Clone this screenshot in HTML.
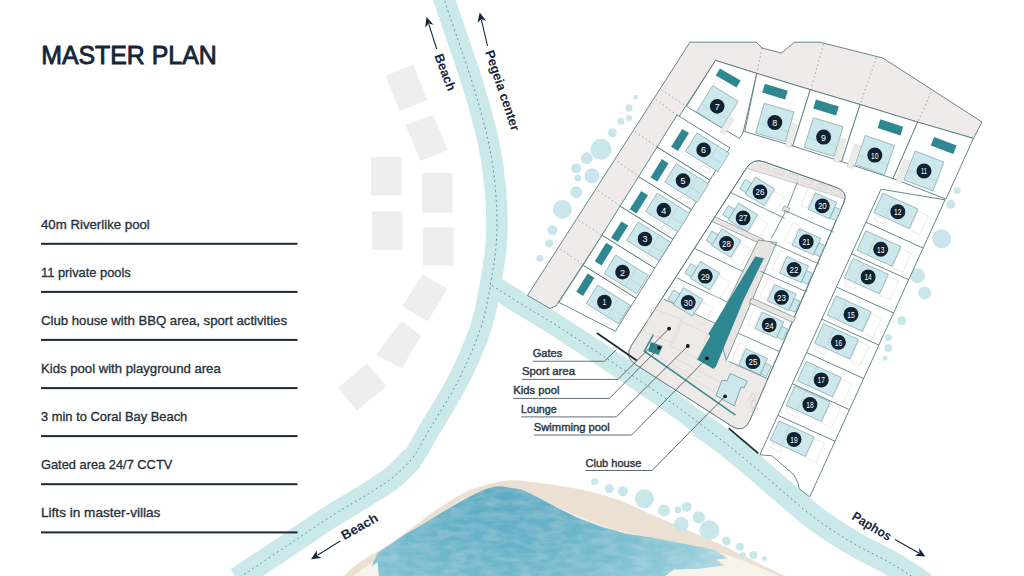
<!DOCTYPE html>
<html><head><meta charset="utf-8"><style>
html,body{margin:0;padding:0;background:#fff;}
body{width:1024px;height:576px;overflow:hidden;position:relative;font-family:"Liberation Sans",sans-serif;}
svg{position:absolute;left:0;top:0;}
</style></head><body>
<svg width="1024" height="576" viewBox="0 0 1024 576" font-family="Liberation Sans, sans-serif">
<polygon points="385.5,75.8 412.8,64.4 427.7,99.7 399.5,110.9" fill="#eeeeee"/>
<polygon points="405.6,125.0 433.0,114.8 447.8,150.0 420.5,161.0" fill="#eeeeee"/>
<rect x="371" y="157" width="30.5" height="38.5" fill="#eeeeee"/>
<rect x="422" y="173" width="30.5" height="39.5" fill="#eeeeee"/>
<rect x="372" y="211.5" width="30.5" height="38.5" fill="#eeeeee"/>
<rect x="423" y="227.5" width="30.5" height="38" fill="#eeeeee"/>
<polygon points="422.5,274.5 447.5,288.8 427.5,321.2 402.5,306.2" fill="#eeeeee"/>
<polygon points="401.2,321.2 421.0,335.5 402.0,368.3 376.2,355.0" fill="#eeeeee"/>
<polygon points="366.9,363.6 386.4,386.2 356.7,410.5 338.0,387.8" fill="#eeeeee"/>
<defs>
<radialGradient id="sea" gradientUnits="userSpaceOnUse" cx="500" cy="492" r="250" gradientTransform="translate(500 492) scale(1 0.75) translate(-500 -492)">
<stop offset="0" stop-color="#5aabc3"/><stop offset="0.3" stop-color="#66b3c9"/><stop offset="0.6" stop-color="#7cc0d1"/><stop offset="0.85" stop-color="#98cedb"/><stop offset="1" stop-color="#b0dae4"/>
</radialGradient>
<filter id="wc" x="0" y="0" width="100%" height="100%">
<feTurbulence type="fractalNoise" baseFrequency="0.06 0.16" numOctaves="3" seed="7" result="n"/>
<feColorMatrix in="n" type="matrix" values="0 0 0 0 1  0 0 0 0 1  0 0 0 0 1  0 0 0 0.3 -0.1" result="w"/>
<feComposite in="w" in2="SourceGraphic" operator="in" result="wi"/>
<feMerge><feMergeNode in="SourceGraphic"/><feMergeNode in="wi"/></feMerge>
</filter>
</defs>
<path d="M343.7,576.0 C346.4,573.7 351.7,567.7 360.0,562.0 C368.3,556.3 382.2,549.2 393.3,541.7 C404.4,534.2 415.6,524.5 426.7,516.7 C437.8,508.9 451.1,500.0 460.0,495.0 C468.9,490.0 472.4,489.1 480.0,486.7 C487.6,484.3 497.5,481.5 505.8,480.7 C514.1,479.9 517.6,480.3 530.0,481.7 C542.4,483.1 565.0,486.1 580.0,489.3 C595.0,492.5 608.3,496.5 620.0,500.6 C631.7,504.7 633.5,506.6 650.3,513.9 C667.1,521.2 700.3,535.0 720.6,544.4 C740.9,553.8 761.3,564.7 772.2,570.0 C783.1,575.3 783.7,575.0 786.0,576.0  Z" fill="#ece0d3"/>
<path d="M353.0,576.0 C357.7,572.8 370.0,564.0 381.0,557.0 C392.0,550.0 408.0,541.8 419.0,534.0 C430.0,526.2 438.5,516.2 447.0,510.0 C455.5,503.8 461.2,500.0 470.0,497.0 C478.8,494.0 488.3,491.5 500.0,492.0 C511.7,492.5 523.3,494.5 540.0,500.0 C556.7,505.5 580.0,518.3 600.0,525.0 C620.0,531.7 638.8,535.0 660.0,540.0 C681.2,545.0 707.2,549.0 727.0,555.0 C746.8,561.0 770.3,572.5 779.0,576.0  Z" fill="#f8f4ec"/>
<path d="M377.5,553.3 C381.5,550.5 393.5,542.0 401.7,536.7 C409.9,531.4 418.4,526.7 426.7,521.7 C435.0,516.7 444.5,510.9 451.7,506.7 C458.9,502.5 464.4,499.4 470.0,496.5 C475.6,493.6 480.3,491.2 485.0,489.5 C489.7,487.8 492.9,486.6 498.0,486.5 C503.1,486.4 510.2,487.5 515.5,488.6 C520.8,489.8 519.2,488.4 530.0,493.4 C540.8,498.4 565.0,512.2 580.0,518.6 C595.0,525.0 608.3,528.8 620.0,531.9 C631.7,535.0 638.6,535.1 650.3,537.3 C662.0,539.5 679.9,543.0 690.0,545.0 C700.1,547.0 706.5,547.8 711.2,549.0 C715.9,550.2 716.9,551.5 718.0,552.0  L727.6,558.4 L716,559.5 L724,565.5 L700,568.8 L674,569.5 L665,576 L378.8,576 L377.5,562 L371.5,566.5 Z" fill="url(#sea)" filter="url(#wc)"/>
<path d="M441.5,-8.0 C444.2,0.0 452.8,24.5 458.0,40.0 C463.2,55.5 468.0,68.3 473.0,85.0 C478.0,101.7 484.2,122.5 488.0,140.0 C491.8,157.5 494.1,173.3 495.5,190.0 C496.9,206.7 497.5,223.3 496.5,240.0 C495.5,256.7 492.2,275.0 489.5,290.0 C486.8,305.0 485.2,315.0 480.0,330.0 C474.8,345.0 467.2,362.9 458.5,380.0 C449.8,397.1 435.4,419.5 427.7,432.5 C420.0,445.5 418.4,450.4 412.5,458.0 C406.6,465.6 399.6,471.9 392.0,478.0 C384.4,484.1 377.1,488.2 367.0,494.6 C356.9,501.0 343.7,508.4 331.4,516.2 C319.1,524.0 306.1,533.0 293.4,541.5 C280.7,550.0 264.7,560.6 255.3,566.9 C245.9,573.1 240.1,577.0 237.0,579.0 " fill="none" stroke="#cbe8eb" stroke-width="21.5"/>
<path d="M492.0,285.5 C497.8,289.2 515.1,300.1 527.0,307.5 C538.9,314.9 541.4,315.5 563.6,330.0 C585.8,344.5 633.9,376.3 660.0,394.5 C686.1,412.7 703.8,426.6 720.0,439.0 C736.2,451.4 746.7,460.4 757.0,469.0 C767.3,477.6 771.8,482.1 781.8,490.5 C791.8,498.9 804.8,510.7 816.8,519.5 C828.8,528.3 841.3,536.2 853.6,543.5 C865.9,550.8 878.5,556.1 890.4,563.0 C902.3,569.9 919.2,581.3 925.0,585.0 " fill="none" stroke="#cbe8eb" stroke-width="22"/>
<path d="M700.0,425.0 C703.3,427.3 710.5,431.7 720.0,439.0 C729.5,446.3 746.7,460.4 757.0,469.0 C767.3,477.6 771.8,482.1 781.8,490.5 C791.8,498.9 804.8,510.7 816.8,519.5 C828.8,528.3 841.3,536.2 853.6,543.5 C865.9,550.8 878.5,556.1 890.4,563.0 C902.3,569.9 919.2,581.3 925.0,585.0 " fill="none" stroke="#cbe8eb" stroke-width="22" transform="translate(0.6,-1.4)"/>
<path d="M412.5,458.0 C409.1,461.3 399.6,471.9 392.0,478.0 C384.4,484.1 377.1,488.2 367.0,494.6 C356.9,501.0 343.7,508.4 331.4,516.2 C319.1,524.0 306.1,533.0 293.4,541.5 C280.7,550.0 264.7,560.6 255.3,566.9 C245.9,573.1 240.1,577.0 237.0,579.0 " fill="none" stroke="#cbe8eb" stroke-width="23.5"/>
<path d="M700.0,425.0 C703.3,427.3 710.5,431.7 720.0,439.0 C729.5,446.3 746.7,460.4 757.0,469.0 C767.3,477.6 771.8,482.1 781.8,490.5 C791.8,498.9 804.8,510.7 816.8,519.5 C828.8,528.3 841.3,536.2 853.6,543.5 C865.9,550.8 878.5,556.1 890.4,563.0 C902.3,569.9 919.2,581.3 925.0,585.0 " fill="none" stroke="#cbe8eb" stroke-width="22" transform="translate(-0.6,1.4)"/>
<path d="M441.5,-8.0 C444.2,0.0 452.8,24.5 458.0,40.0 C463.2,55.5 468.0,68.3 473.0,85.0 C478.0,101.7 484.2,122.5 488.0,140.0 C491.8,157.5 494.1,173.3 495.5,190.0 C496.9,206.7 497.5,223.3 496.5,240.0 C495.5,256.7 492.2,275.0 489.5,290.0 C486.8,305.0 485.2,315.0 480.0,330.0 C474.8,345.0 467.2,362.9 458.5,380.0 C449.8,397.1 435.4,419.5 427.7,432.5 C420.0,445.5 418.4,450.4 412.5,458.0 C406.6,465.6 399.6,471.9 392.0,478.0 C384.4,484.1 377.1,488.2 367.0,494.6 C356.9,501.0 343.7,508.4 331.4,516.2 C319.1,524.0 306.1,533.0 293.4,541.5 C280.7,550.0 264.7,560.6 255.3,566.9 C245.9,573.1 240.1,577.0 237.0,579.0 " fill="none" stroke="#55808a" stroke-width="0.9" stroke-dasharray="1.8 3.1"/>
<path d="M492.0,285.5 C497.8,289.2 515.1,300.1 527.0,307.5 C538.9,314.9 541.4,315.5 563.6,330.0 C585.8,344.5 633.9,376.3 660.0,394.5 C686.1,412.7 703.8,426.6 720.0,439.0 C736.2,451.4 746.7,460.4 757.0,469.0 C767.3,477.6 771.8,482.1 781.8,490.5 C791.8,498.9 804.8,510.7 816.8,519.5 C828.8,528.3 841.3,536.2 853.6,543.5 C865.9,550.8 878.5,556.1 890.4,563.0 C902.3,569.9 919.2,581.3 925.0,585.0 " fill="none" stroke="#55808a" stroke-width="0.9" stroke-dasharray="1.8 3.1"/>
<circle cx="635.6" cy="97.2" r="2.4" fill="#c9e7eb"/>
<circle cx="629" cy="108" r="3.5" fill="#c9e7eb"/>
<circle cx="620.8" cy="121.3" r="3.5" fill="#c9e7eb"/>
<circle cx="629" cy="118" r="3" fill="#c9e7eb"/>
<circle cx="612.5" cy="132.8" r="4.5" fill="#c9e7eb"/>
<circle cx="601" cy="149.3" r="10.5" fill="#c9e7eb"/>
<circle cx="586.8" cy="158.2" r="6" fill="#c9e7eb"/>
<circle cx="576.2" cy="168.4" r="5" fill="#c9e7eb"/>
<circle cx="577.9" cy="178" r="3.5" fill="#c9e7eb"/>
<circle cx="592" cy="175.7" r="7.5" fill="#c9e7eb"/>
<circle cx="576.2" cy="192.2" r="6" fill="#c9e7eb"/>
<circle cx="562.3" cy="209.4" r="9.5" fill="#c9e7eb"/>
<circle cx="552.4" cy="230.2" r="5" fill="#c9e7eb"/>
<circle cx="549.1" cy="243.4" r="4" fill="#c9e7eb"/>
<circle cx="539.9" cy="258.2" r="3.5" fill="#c9e7eb"/>
<circle cx="957.1" cy="190.4" r="3.5" fill="#c9e7eb"/>
<circle cx="950.8" cy="204.2" r="4.5" fill="#c9e7eb"/>
<circle cx="941.7" cy="238.75" r="9.5" fill="#c9e7eb"/>
<circle cx="917.5" cy="275.8" r="7.5" fill="#c9e7eb"/>
<circle cx="924.6" cy="292.9" r="6.5" fill="#c9e7eb"/>
<circle cx="901.7" cy="320.8" r="4.5" fill="#c9e7eb"/>
<circle cx="888.3" cy="337.5" r="3.5" fill="#c9e7eb"/>
<circle cx="888.3" cy="348" r="4" fill="#c9e7eb"/>
<circle cx="885" cy="358.3" r="2.5" fill="#c9e7eb"/>
<circle cx="594.5" cy="481.8" r="3.5" fill="#c9e7eb"/>
<circle cx="609.3" cy="488.6" r="4.5" fill="#c9e7eb"/>
<circle cx="622.9" cy="491.2" r="5" fill="#c9e7eb"/>
<circle cx="644.4" cy="498.7" r="9.5" fill="#c9e7eb"/>
<circle cx="663.9" cy="510.4" r="6" fill="#c9e7eb"/>
<circle cx="678" cy="509.7" r="3.5" fill="#c9e7eb"/>
<circle cx="686.6" cy="506.9" r="5" fill="#c9e7eb"/>
<circle cx="681.2" cy="524.4" r="7.5" fill="#c9e7eb"/>
<circle cx="698.8" cy="517.4" r="6.2" fill="#c9e7eb"/>
<circle cx="709.4" cy="530.3" r="10" fill="#c9e7eb"/>
<circle cx="726.5" cy="540.9" r="4.5" fill="#c9e7eb"/>
<circle cx="739.8" cy="546.7" r="4" fill="#c9e7eb"/>
<circle cx="742.9" cy="554.9" r="3" fill="#c9e7eb"/>
<circle cx="753.4" cy="554.9" r="4" fill="#c9e7eb"/>
<circle cx="764.4" cy="558.4" r="2.5" fill="#c9e7eb"/>
<polygon points="527.5,295.5 690.0,42.2 756.4,42.2 762.0,48.0 781.4,53.0 794.7,42.2 820.0,42.2 882.8,58.0 982.0,122.0 973.4,138.4 917.7,122.1 860.1,104.5 810.3,89.7 756.8,73.4 715.5,60.4 556.0,306.0 550.0,308.5" fill="#eeebea" stroke="#577a7b" stroke-width="0.9" />
<line x1="761.9" y1="48.0" x2="756.8" y2="73.4" stroke="#8a9596" stroke-width="0.8" stroke-dasharray="1.6 2.6"/>
<line x1="823.4" y1="44.0" x2="811.0" y2="89.0" stroke="#8a9596" stroke-width="0.8" stroke-dasharray="1.6 2.6"/>
<line x1="876.6" y1="57.3" x2="860.1" y2="104.5" stroke="#8a9596" stroke-width="0.8" stroke-dasharray="1.6 2.6"/>
<line x1="931.0" y1="92.5" x2="917.7" y2="122.1" stroke="#8a9596" stroke-width="0.8" stroke-dasharray="1.6 2.6"/>
<line x1="661.6" y1="89.8" x2="686.5" y2="106.4" stroke="#8a9596" stroke-width="0.8" stroke-dasharray="1.6 2.6"/>
<line x1="655.7" y1="99.5" x2="679.5" y2="116.8" stroke="#8a9596" stroke-width="0.8" stroke-dasharray="1.6 2.6"/>
<line x1="635.2" y1="131.8" x2="659.7" y2="148.6" stroke="#8a9596" stroke-width="0.8" stroke-dasharray="1.6 2.6"/>
<line x1="617.7" y1="161.7" x2="640.3" y2="177.5" stroke="#8a9596" stroke-width="0.8" stroke-dasharray="1.6 2.6"/>
<line x1="598.1" y1="190.4" x2="621.9" y2="207.2" stroke="#8a9596" stroke-width="0.8" stroke-dasharray="1.6 2.6"/>
<line x1="578.6" y1="220.3" x2="603.3" y2="236.0" stroke="#8a9596" stroke-width="0.8" stroke-dasharray="1.6 2.6"/>
<line x1="560.4" y1="249.0" x2="583.8" y2="265.4" stroke="#8a9596" stroke-width="0.8" stroke-dasharray="1.6 2.6"/>
<polygon points="583.2,265.1 636.1,298.1 615.4,331.3 564.7,305.2 558.8,302.4" fill="#fff" stroke="#577a7b" stroke-width="0.9" />
<polygon points="602.0,235.1 654.8,268.1 636.1,298.1 583.2,265.1" fill="#fff" stroke="#577a7b" stroke-width="0.9" />
<polygon points="620.1,206.1 673.0,239.1 654.8,268.1 602.0,235.1" fill="#fff" stroke="#577a7b" stroke-width="0.9" />
<polygon points="638.6,176.5 691.5,209.5 673.0,239.1 620.1,206.1" fill="#fff" stroke="#577a7b" stroke-width="0.9" />
<polygon points="657.1,146.9 709.9,180.0 691.5,209.5 638.6,176.5" fill="#fff" stroke="#577a7b" stroke-width="0.9" />
<polygon points="677.1,114.9 729.9,147.9 709.9,180.0 657.1,146.9" fill="#fff" stroke="#577a7b" stroke-width="0.9" />
<rect x="7" y="12.8" width="10" height="4.6" rx="2" fill="none" stroke="#e2d2d2" stroke-width="0.7" transform="translate(604.4,302.0) rotate(32)"/>
<polyline points="571.0,297.0 601.5,316.1" fill="none" stroke="#eadcdc" stroke-width="0.6" />
<polyline points="594.9,281.3 582.5,301.3" fill="none" stroke="#eadcdc" stroke-width="0.6" />
<polygon points="597.7,285.0 630.2,305.3 618.6,323.7 586.2,303.5" fill="#cde8ec" stroke="#78a4a7" stroke-width="0.7" />
<polyline points="618.7,298.1 607.1,316.5" fill="none" stroke="#a9cfd3" stroke-width="0.6" />
<polyline points="611.8,309.0 623.4,316.2" fill="none" stroke="#a9cfd3" stroke-width="0.6" />
<polygon points="587.7,273.5 594.4,277.7 583.1,296.0 576.3,291.7" fill="#2f8891" stroke="none" stroke-width="0.8" />
<circle cx="604.4" cy="302.0" r="7.3" fill="#0e2231"/>
<text x="602.7" y="305.4" font-size="9.6" fill="#fff" textLength="3.4" lengthAdjust="spacingAndGlyphs">1</text>
<rect x="7" y="12.8" width="10" height="4.6" rx="2" fill="none" stroke="#e2d2d2" stroke-width="0.7" transform="translate(622.5,272.1) rotate(32)"/>
<polyline points="589.1,267.1 619.6,286.2" fill="none" stroke="#eadcdc" stroke-width="0.6" />
<polyline points="613.0,251.4 600.6,271.4" fill="none" stroke="#eadcdc" stroke-width="0.6" />
<polygon points="615.8,255.1 648.3,275.4 636.7,293.8 604.3,273.6" fill="#cde8ec" stroke="#78a4a7" stroke-width="0.7" />
<polyline points="636.8,268.2 625.2,286.6" fill="none" stroke="#a9cfd3" stroke-width="0.6" />
<polyline points="629.9,279.1 641.5,286.3" fill="none" stroke="#a9cfd3" stroke-width="0.6" />
<polygon points="606.2,242.8 613.0,247.1 601.6,265.4 594.8,261.2" fill="#2f8891" stroke="none" stroke-width="0.8" />
<circle cx="622.5" cy="272.1" r="7.3" fill="#0e2231"/>
<text x="620.0" y="275.6" font-size="9.6" fill="#fff" textLength="5.0" lengthAdjust="spacingAndGlyphs">2</text>
<rect x="7" y="12.8" width="10" height="4.6" rx="2" fill="none" stroke="#e2d2d2" stroke-width="0.7" transform="translate(644.9,239.0) rotate(32)"/>
<polyline points="611.5,234.0 642.0,253.1" fill="none" stroke="#eadcdc" stroke-width="0.6" />
<polyline points="635.4,218.3 623.0,238.3" fill="none" stroke="#eadcdc" stroke-width="0.6" />
<polygon points="638.2,222.0 670.7,242.3 659.1,260.7 626.7,240.5" fill="#cde8ec" stroke="#78a4a7" stroke-width="0.7" />
<polyline points="659.2,235.1 647.6,253.5" fill="none" stroke="#a9cfd3" stroke-width="0.6" />
<polyline points="652.3,246.0 663.9,253.2" fill="none" stroke="#a9cfd3" stroke-width="0.6" />
<polygon points="621.4,221.4 628.2,225.6 617.9,242.0 611.1,237.8" fill="#2f8891" stroke="none" stroke-width="0.8" />
<circle cx="644.9" cy="239.0" r="7.3" fill="#0e2231"/>
<text x="642.4" y="242.4" font-size="9.6" fill="#fff" textLength="5.0" lengthAdjust="spacingAndGlyphs">3</text>
<rect x="7" y="12.8" width="10" height="4.6" rx="2" fill="none" stroke="#e2d2d2" stroke-width="0.7" transform="translate(663.8,210.1) rotate(32)"/>
<polyline points="630.4,205.1 660.9,224.2" fill="none" stroke="#eadcdc" stroke-width="0.6" />
<polyline points="654.3,189.4 641.9,209.4" fill="none" stroke="#eadcdc" stroke-width="0.6" />
<polygon points="657.1,193.1 689.6,213.4 678.0,231.8 645.6,211.6" fill="#cde8ec" stroke="#78a4a7" stroke-width="0.7" />
<polyline points="678.1,206.2 666.5,224.6" fill="none" stroke="#a9cfd3" stroke-width="0.6" />
<polyline points="671.2,217.1 682.8,224.3" fill="none" stroke="#a9cfd3" stroke-width="0.6" />
<polygon points="641.2,190.9 648.0,195.2 636.5,213.6 629.7,209.3" fill="#2f8891" stroke="none" stroke-width="0.8" />
<circle cx="663.8" cy="210.1" r="7.3" fill="#0e2231"/>
<text x="661.3" y="213.5" font-size="9.6" fill="#fff" textLength="5.0" lengthAdjust="spacingAndGlyphs">4</text>
<rect x="7" y="12.8" width="10" height="4.6" rx="2" fill="none" stroke="#e2d2d2" stroke-width="0.7" transform="translate(683.0,180.6) rotate(32)"/>
<polyline points="649.6,175.6 680.1,194.7" fill="none" stroke="#eadcdc" stroke-width="0.6" />
<polyline points="673.5,159.9 661.1,179.9" fill="none" stroke="#eadcdc" stroke-width="0.6" />
<polygon points="676.3,163.6 708.8,183.9 697.2,202.3 664.8,182.1" fill="#cde8ec" stroke="#78a4a7" stroke-width="0.7" />
<polyline points="697.3,176.7 685.7,195.1" fill="none" stroke="#a9cfd3" stroke-width="0.6" />
<polyline points="690.4,187.6 702.0,194.8" fill="none" stroke="#a9cfd3" stroke-width="0.6" />
<polygon points="661.9,159.1 668.6,163.4 657.3,181.6 650.5,177.4" fill="#2f8891" stroke="none" stroke-width="0.8" />
<circle cx="683.0" cy="180.6" r="7.3" fill="#0e2231"/>
<text x="680.5" y="184.0" font-size="9.6" fill="#fff" textLength="5.0" lengthAdjust="spacingAndGlyphs">5</text>
<rect x="7" y="12.8" width="10" height="4.6" rx="2" fill="none" stroke="#e2d2d2" stroke-width="0.7" transform="translate(703.6,149.9) rotate(32)"/>
<polyline points="670.2,144.9 700.7,164.0" fill="none" stroke="#eadcdc" stroke-width="0.6" />
<polyline points="694.1,129.2 681.7,149.2" fill="none" stroke="#eadcdc" stroke-width="0.6" />
<polygon points="696.9,132.9 729.4,153.2 717.8,171.6 685.4,151.4" fill="#cde8ec" stroke="#78a4a7" stroke-width="0.7" />
<polyline points="717.9,146.0 706.3,164.4" fill="none" stroke="#a9cfd3" stroke-width="0.6" />
<polyline points="711.0,156.9 722.6,164.1" fill="none" stroke="#a9cfd3" stroke-width="0.6" />
<polygon points="682.2,128.9 689.0,133.1 677.9,150.9 671.1,146.7" fill="#2f8891" stroke="none" stroke-width="0.8" />
<circle cx="703.6" cy="149.9" r="7.3" fill="#0e2231"/>
<text x="701.1" y="153.3" font-size="9.6" fill="#fff" textLength="5.0" lengthAdjust="spacingAndGlyphs">6</text>
<polygon points="715.5,60.4 756.8,73.4 743.0,133.0 739.4,138.5 686.5,106.4" fill="#fff" stroke="#577a7b" stroke-width="0.9" />
<polygon points="712.8,85.5 738.2,101.4 721.8,127.7 696.4,111.8" fill="#cde8ec" stroke="#78a4a7" stroke-width="0.7" />
<line x1="701.4" y1="103.7" x2="726.8" y2="119.6" stroke="#a9cfd3" stroke-width="0.6" />
<polygon points="719.9,68.4 740.7,80.4 736.5,87.6 715.7,75.6" fill="#2f8891" stroke="none" stroke-width="0.8" />
<polygon points="729.4,116.5 734.0,119.4 724.5,134.7 719.8,131.8" fill="#ececec" stroke="#d8d0d0" stroke-width="0.5" />
<polygon points="716.8,79.1 726.1,85.0 722.4,90.9 713.1,85.1" fill="none" stroke="#e2d6d6" stroke-width="0.6" />
<circle cx="717.2" cy="106.4" r="7.3" fill="#0e2231"/>
<text x="714.7" y="109.9" font-size="9.6" fill="#fff" textLength="5.0" lengthAdjust="spacingAndGlyphs">7</text>
<polygon points="756.8,73.4 810.3,89.7 792.7,146.0 744.7,131.6" fill="#fff" stroke="#577a7b" stroke-width="0.9" />
<polygon points="810.3,89.7 860.1,104.5 841.6,161.6 792.7,146.0" fill="#fff" stroke="#577a7b" stroke-width="0.9" />
<polygon points="860.1,104.5 917.7,122.1 893.0,178.5 841.6,161.6" fill="#fff" stroke="#577a7b" stroke-width="0.9" />
<polygon points="917.7,122.1 973.4,138.4 946.0,199.0 893.0,178.5" fill="#fff" stroke="#577a7b" stroke-width="0.9" />
<polygon points="764.2,103.3 794.0,111.9 785.4,141.7 755.6,133.1" fill="#cde8ec" stroke="#78a4a7" stroke-width="0.7" />
<line x1="758.5" y1="123.0" x2="788.3" y2="131.6" stroke="#a9cfd3" stroke-width="0.6" />
<polygon points="791.8,123.2 797.1,124.7 790.4,147.8 785.1,146.3" fill="#ececec" stroke="#d8d0d0" stroke-width="0.5" />
<polygon points="764.9,83.7 787.8,90.7 785.1,99.5 762.2,92.5" fill="#2f8891" stroke="none" stroke-width="0.8" />
<circle cx="774.8" cy="122.5" r="7.5" fill="#0e2231"/>
<text x="772.3" y="126.0" font-size="9.6" fill="#fff" textLength="5.0" lengthAdjust="spacingAndGlyphs">8</text>
<polygon points="813.3,117.7 843.0,126.8 833.9,156.5 804.2,147.4" fill="#cde8ec" stroke="#78a4a7" stroke-width="0.7" />
<line x1="807.3" y1="137.3" x2="837.0" y2="146.4" stroke="#a9cfd3" stroke-width="0.6" />
<polygon points="840.5,138.1 845.8,139.7 838.8,162.7 833.5,161.1" fill="#ececec" stroke="#d8d0d0" stroke-width="0.5" />
<polygon points="815.9,99.6 838.8,106.6 836.1,115.4 813.2,108.4" fill="#2f8891" stroke="none" stroke-width="0.8" />
<circle cx="823.6" cy="137.1" r="7.5" fill="#0e2231"/>
<text x="821.1" y="140.5" font-size="9.6" fill="#fff" textLength="5.0" lengthAdjust="spacingAndGlyphs">9</text>
<polygon points="865.2,135.4 894.5,145.5 884.4,174.8 855.1,164.7" fill="#cde8ec" stroke="#78a4a7" stroke-width="0.7" />
<line x1="858.5" y1="154.8" x2="887.8" y2="164.9" stroke="#a9cfd3" stroke-width="0.6" />
<polygon points="854.8,144.0 860.0,145.8 852.2,168.5 847.0,166.7" fill="#ececec" stroke="#d8d0d0" stroke-width="0.5" />
<polygon points="880.4,119.3 903.2,126.7 900.4,135.5 877.6,128.1" fill="#2f8891" stroke="none" stroke-width="0.8" />
<circle cx="874.8" cy="155.1" r="7.5" fill="#0e2231"/>
<text x="871.1" y="158.5" font-size="9.6" fill="#fff" textLength="7.4" lengthAdjust="spacingAndGlyphs">10</text>
<polygon points="915.1,151.0 944.0,162.1 932.9,191.0 904.0,179.9" fill="#cde8ec" stroke="#78a4a7" stroke-width="0.7" />
<line x1="907.7" y1="170.1" x2="936.7" y2="181.2" stroke="#a9cfd3" stroke-width="0.6" />
<polygon points="904.4,159.2 909.6,161.2 901.0,183.6 895.8,181.6" fill="#ececec" stroke="#d8d0d0" stroke-width="0.5" />
<polygon points="934.1,136.9 956.6,145.5 953.3,154.1 930.8,145.5" fill="#2f8891" stroke="none" stroke-width="0.8" />
<circle cx="924.0" cy="171.0" r="7.5" fill="#0e2231"/>
<text x="921.0" y="174.4" font-size="9.6" fill="#fff" textLength="6.0" lengthAdjust="spacingAndGlyphs">11</text>
<polygon points="881.0,189.2 945.1,199.8 809.7,496.9 799.0,488.5 798.2,483.3 793.8,474.7 772.1,455.9 759.9,454.7" fill="#fff" stroke="#577a7b" stroke-width="0.9" />
<line x1="865.9" y1="222.1" x2="923.1" y2="248.1" stroke="#577a7b" stroke-width="0.9" />
<line x1="851.5" y1="253.8" x2="908.7" y2="279.8" stroke="#577a7b" stroke-width="0.9" />
<line x1="836.4" y1="287.0" x2="893.5" y2="313.0" stroke="#577a7b" stroke-width="0.9" />
<line x1="821.7" y1="319.1" x2="878.9" y2="345.1" stroke="#577a7b" stroke-width="0.9" />
<line x1="806.5" y1="352.5" x2="863.7" y2="378.5" stroke="#577a7b" stroke-width="0.9" />
<line x1="792.3" y1="383.6" x2="849.5" y2="409.7" stroke="#577a7b" stroke-width="0.9" />
<line x1="777.9" y1="415.3" x2="835.1" y2="441.3" stroke="#577a7b" stroke-width="0.9" />
<polygon points="917.9,211.0 928.4,215.7 919.7,234.8 909.2,230.1" fill="none" stroke="#e6d6d6" stroke-width="0.6" />
<polygon points="875.8,215.4 885.8,219.9 884.0,224.0 874.0,219.5" fill="none" stroke="#e6d6d6" stroke-width="0.6" />
<polygon points="882.9,193.1 918.0,209.1 909.1,228.6 874.0,212.6" fill="#cde8ec" stroke="#78a4a7" stroke-width="0.7" />
<line x1="893.6" y1="198.0" x2="884.8" y2="217.5" stroke="#a9cfd3" stroke-width="0.6" />
<circle cx="897.8" cy="211.7" r="7.5" fill="#0e2231"/>
<text x="894.1" y="215.1" font-size="9.6" fill="#fff" textLength="7.4" lengthAdjust="spacingAndGlyphs">12</text>
<polygon points="900.8,248.5 911.3,253.3 902.6,272.4 892.1,267.6" fill="none" stroke="#e6d6d6" stroke-width="0.6" />
<polygon points="858.7,253.0 868.7,257.5 866.8,261.6 856.8,257.1" fill="none" stroke="#e6d6d6" stroke-width="0.6" />
<polygon points="865.8,230.7 900.9,246.7 892.0,266.2 856.9,250.2" fill="#cde8ec" stroke="#78a4a7" stroke-width="0.7" />
<line x1="876.5" y1="235.6" x2="867.6" y2="255.1" stroke="#a9cfd3" stroke-width="0.6" />
<circle cx="880.7" cy="249.3" r="7.5" fill="#0e2231"/>
<text x="877.0" y="252.7" font-size="9.6" fill="#fff" textLength="7.4" lengthAdjust="spacingAndGlyphs">13</text>
<polygon points="888.2,276.2 898.7,281.0 890.0,300.1 879.5,295.3" fill="none" stroke="#e6d6d6" stroke-width="0.6" />
<polygon points="846.1,280.6 856.1,285.2 854.2,289.3 844.2,284.7" fill="none" stroke="#e6d6d6" stroke-width="0.6" />
<polygon points="853.2,258.4 888.3,274.4 879.4,293.8 844.3,277.8" fill="#cde8ec" stroke="#78a4a7" stroke-width="0.7" />
<line x1="863.9" y1="263.2" x2="855.0" y2="282.7" stroke="#a9cfd3" stroke-width="0.6" />
<circle cx="868.1" cy="276.9" r="7.5" fill="#0e2231"/>
<text x="864.4" y="280.4" font-size="9.6" fill="#fff" textLength="7.4" lengthAdjust="spacingAndGlyphs">14</text>
<polygon points="871.1,313.7 881.6,318.5 872.9,337.6 862.4,332.8" fill="none" stroke="#e6d6d6" stroke-width="0.6" />
<polygon points="829.0,318.1 839.0,322.7 837.1,326.8 827.1,322.2" fill="none" stroke="#e6d6d6" stroke-width="0.6" />
<polygon points="836.1,295.8 871.2,311.9 862.3,331.3 827.2,315.3" fill="#cde8ec" stroke="#78a4a7" stroke-width="0.7" />
<line x1="846.8" y1="300.7" x2="837.9" y2="320.2" stroke="#a9cfd3" stroke-width="0.6" />
<circle cx="851.0" cy="314.4" r="7.5" fill="#0e2231"/>
<text x="847.3" y="317.9" font-size="9.6" fill="#fff" textLength="7.4" lengthAdjust="spacingAndGlyphs">15</text>
<polygon points="858.5,341.4 868.9,346.2 860.2,365.3 849.8,360.6" fill="none" stroke="#e6d6d6" stroke-width="0.6" />
<polygon points="816.4,345.9 826.4,350.4 824.5,354.5 814.5,350.0" fill="none" stroke="#e6d6d6" stroke-width="0.6" />
<polygon points="823.4,323.6 858.5,339.6 849.7,359.1 814.5,343.1" fill="#cde8ec" stroke="#78a4a7" stroke-width="0.7" />
<line x1="834.2" y1="328.5" x2="825.3" y2="348.0" stroke="#a9cfd3" stroke-width="0.6" />
<circle cx="838.4" cy="342.2" r="7.5" fill="#0e2231"/>
<text x="834.7" y="345.6" font-size="9.6" fill="#fff" textLength="7.4" lengthAdjust="spacingAndGlyphs">16</text>
<polygon points="841.3,379.2 851.7,384.0 843.0,403.1 832.6,398.3" fill="none" stroke="#e6d6d6" stroke-width="0.6" />
<polygon points="799.1,383.6 809.1,388.2 807.3,392.3 797.3,387.7" fill="none" stroke="#e6d6d6" stroke-width="0.6" />
<polygon points="806.2,361.4 841.3,377.4 832.5,396.8 797.3,380.8" fill="#cde8ec" stroke="#78a4a7" stroke-width="0.7" />
<line x1="817.0" y1="366.3" x2="808.1" y2="385.7" stroke="#a9cfd3" stroke-width="0.6" />
<circle cx="821.2" cy="379.9" r="7.5" fill="#0e2231"/>
<text x="817.5" y="383.4" font-size="9.6" fill="#fff" textLength="7.4" lengthAdjust="spacingAndGlyphs">17</text>
<polygon points="830.0,403.9 840.5,408.6 831.8,427.7 821.3,423.0" fill="none" stroke="#e6d6d6" stroke-width="0.6" />
<polygon points="787.9,408.3 797.9,412.9 796.0,416.9 786.0,412.4" fill="none" stroke="#e6d6d6" stroke-width="0.6" />
<polygon points="795.0,386.0 830.1,402.0 821.2,421.5 786.1,405.5" fill="#cde8ec" stroke="#78a4a7" stroke-width="0.7" />
<line x1="805.7" y1="390.9" x2="796.8" y2="410.4" stroke="#a9cfd3" stroke-width="0.6" />
<circle cx="809.9" cy="404.6" r="7.5" fill="#0e2231"/>
<text x="806.2" y="408.0" font-size="9.6" fill="#fff" textLength="7.4" lengthAdjust="spacingAndGlyphs">18</text>
<polygon points="814.1,438.7 824.6,443.5 815.9,462.6 805.4,457.8" fill="none" stroke="#e6d6d6" stroke-width="0.6" />
<polygon points="772.0,443.1 782.0,447.7 780.2,451.8 770.2,447.2" fill="none" stroke="#e6d6d6" stroke-width="0.6" />
<polygon points="779.1,420.9 814.2,436.9 805.3,456.4 770.2,440.3" fill="#cde8ec" stroke="#78a4a7" stroke-width="0.7" />
<line x1="789.8" y1="425.8" x2="781.0" y2="445.2" stroke="#a9cfd3" stroke-width="0.6" />
<circle cx="794.0" cy="439.4" r="7.5" fill="#0e2231"/>
<text x="790.3" y="442.9" font-size="9.6" fill="#fff" textLength="7.4" lengthAdjust="spacingAndGlyphs">19</text>
<path d="M764.3,161.9 L837.2,187.8 Q848.5,191.8 843.7,202.8 L749.9,420.2 Q744.0,434.0 731.4,425.9 L635.8,364.6 Q624.0,357.0 631.6,345.3 L746.5,168.0 Q753.0,157.9 764.3,161.9 Z" fill="#fff" stroke="#577a7b" stroke-width="0.9"/>
<clipPath id="blk"><path d="M764.3,161.9 L837.2,187.8 Q848.5,191.8 843.7,202.8 L749.9,420.2 Q744.0,434.0 731.4,425.9 L635.8,364.6 Q624.0,357.0 631.6,345.3 L746.5,168.0 Q753.0,157.9 764.3,161.9 Z"/></clipPath>
<g clip-path="url(#blk)">
<polygon points="663.9,299.1 716.0,325.2 758.5,240.0 776.7,242.5 726.4,360.4 767.0,378.5 800.0,400.0 800.0,470.0 600.0,470.0 600.0,300.0" fill="#eeeae8" stroke="none" stroke-width="0.8" />
<polygon points="745.0,158.0 852.0,192.0 848.5,200.0 741.0,166.5" fill="#e9e6e4"/>
<polyline points="741.0,166.5 848.5,200.0" fill="none" stroke="#9fb5b5" stroke-width="0.6" />
<rect x="-5" y="-2.2" width="10" height="4.4" rx="2" fill="none" stroke="#d5cfcf" stroke-width="0.6" transform="translate(764.5,166.5) rotate(19.6)"/>
<rect x="-5" y="-2.2" width="10" height="4.4" rx="2" fill="none" stroke="#d5cfcf" stroke-width="0.6" transform="translate(778.8,171.6) rotate(19.6)"/>
<rect x="-5" y="-2.2" width="10" height="4.4" rx="2" fill="none" stroke="#d5cfcf" stroke-width="0.6" transform="translate(793.1,176.6) rotate(19.6)"/>
<rect x="-5" y="-2.2" width="10" height="4.4" rx="2" fill="none" stroke="#d5cfcf" stroke-width="0.6" transform="translate(807.4,181.7) rotate(19.6)"/>
<rect x="-5" y="-2.2" width="10" height="4.4" rx="2" fill="none" stroke="#d5cfcf" stroke-width="0.6" transform="translate(821.8,186.8) rotate(19.6)"/>
<rect x="-5" y="-2.2" width="10" height="4.4" rx="2" fill="none" stroke="#d5cfcf" stroke-width="0.6" transform="translate(836.1,191.9) rotate(19.6)"/>
</g>
<path d="M764.3,161.9 L837.2,187.8 Q848.5,191.8 843.7,202.8 L749.9,420.2 Q744.0,434.0 731.4,425.9 L635.8,364.6 Q624.0,357.0 631.6,345.3 L746.5,168.0 Q753.0,157.9 764.3,161.9 Z" fill="none" stroke="#577a7b" stroke-width="0.9"/>
<line x1="730.5" y1="192.4" x2="784.7" y2="218.3" stroke="#577a7b" stroke-width="0.8" />
<line x1="714.3" y1="218.2" x2="768.4" y2="244.1" stroke="#577a7b" stroke-width="0.8" />
<line x1="695.1" y1="248.7" x2="749.2" y2="274.5" stroke="#577a7b" stroke-width="0.8" />
<line x1="676.7" y1="277.9" x2="730.9" y2="303.7" stroke="#577a7b" stroke-width="0.8" />
<line x1="663.9" y1="299.1" x2="718.1" y2="324.9" stroke="#577a7b" stroke-width="0.8" />
<polygon points="715.2,216.8 763.8,239.5 761.7,244.3 712.1,221.6" fill="#e8e4e2" stroke="#577a7b" stroke-width="0.6" />
<polygon points="755.4,177.1 774.5,188.8 764.2,205.7 745.0,194.0" fill="#cde8ec" stroke="#78a4a7" stroke-width="0.7" />
<polygon points="745.4,179.4 751.6,183.2 745.8,192.6 739.6,188.8" fill="#cde8ec" stroke="#78a4a7" stroke-width="0.7" />
<polygon points="774.4,191.3 784.6,197.6 774.2,214.7 764.0,208.4" fill="none" stroke="#e6d6d6" stroke-width="0.6" />
<circle cx="760.0" cy="191.9" r="7.4" fill="#0e2231"/>
<text x="755.6" y="195.3" font-size="9.6" fill="#fff" textLength="8.8" lengthAdjust="spacingAndGlyphs">26</text>
<polygon points="738.5,203.1 757.7,214.8 747.3,231.7 728.1,220.0" fill="#cde8ec" stroke="#78a4a7" stroke-width="0.7" />
<polygon points="728.5,205.4 734.7,209.2 729.0,218.6 722.7,214.8" fill="#cde8ec" stroke="#78a4a7" stroke-width="0.7" />
<polygon points="757.5,217.3 767.8,223.6 757.3,240.7 747.1,234.4" fill="none" stroke="#e6d6d6" stroke-width="0.6" />
<circle cx="743.1" cy="217.9" r="7.4" fill="#0e2231"/>
<text x="738.7" y="221.3" font-size="9.6" fill="#fff" textLength="8.8" lengthAdjust="spacingAndGlyphs">27</text>
<polygon points="721.9,228.7 741.0,240.4 730.7,257.3 711.5,245.6" fill="#cde8ec" stroke="#78a4a7" stroke-width="0.7" />
<polygon points="711.9,231.0 718.1,234.8 712.3,244.2 706.1,240.4" fill="#cde8ec" stroke="#78a4a7" stroke-width="0.7" />
<polygon points="740.9,242.9 751.1,249.2 740.7,266.2 730.5,260.0" fill="none" stroke="#e6d6d6" stroke-width="0.6" />
<circle cx="726.5" cy="243.5" r="7.4" fill="#0e2231"/>
<text x="722.1" y="246.9" font-size="9.6" fill="#fff" textLength="8.8" lengthAdjust="spacingAndGlyphs">28</text>
<polygon points="700.6,261.4 719.8,273.1 709.5,290.0 690.3,278.3" fill="#cde8ec" stroke="#78a4a7" stroke-width="0.7" />
<polygon points="690.6,263.7 696.9,267.5 691.1,276.9 684.9,273.1" fill="#cde8ec" stroke="#78a4a7" stroke-width="0.7" />
<polygon points="719.7,275.6 729.9,281.9 719.5,299.0 709.2,292.7" fill="none" stroke="#e6d6d6" stroke-width="0.6" />
<circle cx="705.3" cy="276.2" r="7.4" fill="#0e2231"/>
<text x="700.9" y="279.6" font-size="9.6" fill="#fff" textLength="8.8" lengthAdjust="spacingAndGlyphs">29</text>
<polygon points="683.6,287.6 702.8,299.4 692.4,316.3 673.2,304.5" fill="#cde8ec" stroke="#78a4a7" stroke-width="0.7" />
<polygon points="673.6,290.0 679.8,293.8 674.1,303.1 667.8,299.3" fill="#cde8ec" stroke="#78a4a7" stroke-width="0.7" />
<polygon points="702.6,301.9 712.9,308.2 702.4,325.2 692.2,318.9" fill="none" stroke="#e6d6d6" stroke-width="0.6" />
<circle cx="688.2" cy="302.4" r="7.4" fill="#0e2231"/>
<text x="683.8" y="305.9" font-size="9.6" fill="#fff" textLength="8.8" lengthAdjust="spacingAndGlyphs">30</text>
<polyline points="797.5,182.0 787.0,208.6 771.5,238.0" fill="none" stroke="#577a7b" stroke-width="0.8" />
<polygon points="784.0,206.0 790.0,208.5 788.0,213.0 782.0,210.5" fill="#e6e2e0" stroke="#577a7b" stroke-width="0.5" />
<polygon points="758.5,240.0 776.7,242.5 726.4,360.4 716.0,325.2" fill="#e8e4e2" stroke="#577a7b" stroke-width="0.7" />
<line x1="784.2" y1="210.3" x2="833.5" y2="232.2" stroke="#577a7b" stroke-width="0.8" />
<line x1="770.7" y1="242.5" x2="819.3" y2="264.1" stroke="#577a7b" stroke-width="0.8" />
<line x1="760.5" y1="271.3" x2="806.9" y2="292.0" stroke="#577a7b" stroke-width="0.8" />
<line x1="750.3" y1="300.2" x2="794.5" y2="319.9" stroke="#577a7b" stroke-width="0.8" />
<line x1="738.6" y1="333.4" x2="780.2" y2="351.9" stroke="#577a7b" stroke-width="0.8" />
<line x1="728.7" y1="361.4" x2="768.2" y2="379.0" stroke="#577a7b" stroke-width="0.8" />
<polygon points="751.7,298.0 795.5,317.6 793.3,322.6 749.4,303.1" fill="#e8e4e2" stroke="#577a7b" stroke-width="0.6" />
<polygon points="808.9,186.7 815.3,189.5 807.2,207.8 800.8,205.0" fill="none" stroke="#e6d6d6" stroke-width="0.6" />
<polygon points="815.4,192.9 836.9,202.5 829.6,218.9 808.0,209.3" fill="#cde8ec" stroke="#78a4a7" stroke-width="0.7" />
<polygon points="834.9,207.0 840.8,209.7 835.9,220.6 830.0,218.0" fill="#cde8ec" stroke="#78a4a7" stroke-width="0.7" />
<circle cx="822.3" cy="205.8" r="7.4" fill="#0e2231"/>
<text x="817.9" y="209.2" font-size="9.6" fill="#fff" textLength="8.8" lengthAdjust="spacingAndGlyphs">20</text>
<polygon points="792.9,222.6 799.3,225.5 791.2,243.7 784.8,240.9" fill="none" stroke="#e6d6d6" stroke-width="0.6" />
<polygon points="799.4,228.8 820.9,238.4 813.6,254.8 792.1,245.2" fill="#cde8ec" stroke="#78a4a7" stroke-width="0.7" />
<polygon points="818.9,242.9 824.8,245.6 820.0,256.5 814.0,253.9" fill="#cde8ec" stroke="#78a4a7" stroke-width="0.7" />
<circle cx="806.3" cy="241.7" r="7.4" fill="#0e2231"/>
<text x="802.6" y="245.2" font-size="9.6" fill="#fff" textLength="7.4" lengthAdjust="spacingAndGlyphs">21</text>
<polygon points="780.6,250.4 787.0,253.2 778.8,271.5 772.4,268.6" fill="none" stroke="#e6d6d6" stroke-width="0.6" />
<polygon points="787.0,256.5 808.6,266.1 801.3,282.6 779.7,273.0" fill="#cde8ec" stroke="#78a4a7" stroke-width="0.7" />
<polygon points="806.5,270.7 812.5,273.3 807.6,284.3 801.7,281.7" fill="#cde8ec" stroke="#78a4a7" stroke-width="0.7" />
<circle cx="794.0" cy="269.5" r="7.4" fill="#0e2231"/>
<text x="789.6" y="272.9" font-size="9.6" fill="#fff" textLength="8.8" lengthAdjust="spacingAndGlyphs">22</text>
<polygon points="768.1,278.3 774.5,281.2 766.4,299.4 760.0,296.6" fill="none" stroke="#e6d6d6" stroke-width="0.6" />
<polygon points="774.6,284.5 796.1,294.1 788.8,310.5 767.2,300.9" fill="#cde8ec" stroke="#78a4a7" stroke-width="0.7" />
<polygon points="794.1,298.7 800.0,301.3 795.2,312.3 789.2,309.6" fill="#cde8ec" stroke="#78a4a7" stroke-width="0.7" />
<circle cx="781.5" cy="297.4" r="7.4" fill="#0e2231"/>
<text x="777.1" y="300.9" font-size="9.6" fill="#fff" textLength="8.8" lengthAdjust="spacingAndGlyphs">23</text>
<polygon points="755.8,306.0 762.2,308.9 754.1,327.1 747.7,324.3" fill="none" stroke="#e6d6d6" stroke-width="0.6" />
<polygon points="762.2,312.2 783.8,321.8 776.5,338.2 754.9,328.6" fill="#cde8ec" stroke="#78a4a7" stroke-width="0.7" />
<polygon points="781.8,326.3 787.7,329.0 782.8,339.9 776.9,337.3" fill="#cde8ec" stroke="#78a4a7" stroke-width="0.7" />
<circle cx="769.2" cy="325.1" r="7.4" fill="#0e2231"/>
<text x="764.8" y="328.6" font-size="9.6" fill="#fff" textLength="8.8" lengthAdjust="spacingAndGlyphs">24</text>
<polygon points="739.5,342.6 745.9,345.5 737.7,363.8 731.3,360.9" fill="none" stroke="#e6d6d6" stroke-width="0.6" />
<polygon points="745.9,348.8 767.5,358.4 760.2,374.8 738.6,365.2" fill="#cde8ec" stroke="#78a4a7" stroke-width="0.7" />
<polygon points="765.5,363.0 771.4,365.6 766.5,376.6 760.6,373.9" fill="#cde8ec" stroke="#78a4a7" stroke-width="0.7" />
<circle cx="752.9" cy="361.7" r="7.4" fill="#0e2231"/>
<text x="748.5" y="365.2" font-size="9.6" fill="#fff" textLength="8.8" lengthAdjust="spacingAndGlyphs">25</text>
<polygon points="755.3,256.5 764.0,258.3 743.5,300.0 740.7,307.0 716.0,366.5 713.5,369.0 697.0,359.5 710.3,336.0 708.3,334.0" fill="#2e8790" stroke="none" stroke-width="0.8" />
<polygon points="650.8,342.1 662.6,346.0 658.7,355.1 648.2,351.2" fill="#2e8790" stroke="none" stroke-width="0.8" />
<polyline points="653.5,334.3 644.3,351.2 735.5,415.1" fill="none" stroke="#3d8c92" stroke-width="1.6" />
<polygon points="730.3,373.4 747.3,381.2 744.0,388.0 741.0,387.0 734.2,406.0 716.0,395.5 722.0,380.0 727.0,381.0" fill="#cde8ec" stroke="#5f9a9e" stroke-width="0.8" />
<polygon points="651.9,308.4 682.3,319.3 673.8,343.6 644.6,331.5" fill="none" stroke="#dcd2d0" stroke-width="0.7" />
<polygon points="679.8,320.5 707.8,333.9 698.0,358.2 670.1,346.0" fill="none" stroke="#dcd2d0" stroke-width="0.7" />
<polyline points="675.0,358.0 720.0,382.0 727.0,385.0" fill="none" stroke="#dcd2d0" stroke-width="0.7" />
<polyline points="668.0,366.0 712.0,390.0" fill="none" stroke="#dcd2d0" stroke-width="0.7" />
<polyline points="660.0,358.0 690.0,374.0 700.0,377.0" fill="none" stroke="#dcd2d0" stroke-width="0.6" />
<rect x="-4" y="-2" width="8" height="4" rx="1.8" fill="none" stroke="#d2c8c6" stroke-width="0.6" transform="translate(752.0,398.0) rotate(-70)"/>
<rect x="-4" y="-2" width="8" height="4" rx="1.8" fill="none" stroke="#d2c8c6" stroke-width="0.6" transform="translate(753.5,404.0) rotate(-70)"/>
<rect x="-4" y="-2" width="8" height="4" rx="1.8" fill="none" stroke="#d2c8c6" stroke-width="0.6" transform="translate(755.0,410.0) rotate(-70)"/>
<line x1="596.9" y1="333.1" x2="636.7" y2="360.5" stroke="#1c2a35" stroke-width="1.8"/>
<line x1="728.75" y1="428.4" x2="758.4" y2="453.4" stroke="#1c2a35" stroke-width="1.8"/>
<polyline points="532.8,361.25 604.4,361.25 616.5,349.5" fill="none" stroke="#4f5e66" stroke-width="0.9"/>
<text x="532.8" y="357.3" font-size="10.8" fill="#2e3b45" stroke="#2e3b45" stroke-width="0.42" textLength="29.4" lengthAdjust="spacingAndGlyphs">Gates</text>
<polyline points="521.9,379.4 618,379.4 669.1,328.6" fill="none" stroke="#4f5e66" stroke-width="0.9"/>
<text x="521.9" y="375.3" font-size="10.8" fill="#2e3b45" stroke="#2e3b45" stroke-width="0.42" textLength="53.1" lengthAdjust="spacingAndGlyphs">Sport area</text>
<circle cx="669.1" cy="328.6" r="1.9" fill="#111"/>
<polyline points="513.3,398.4 609.4,398.4 659.2,347.8" fill="none" stroke="#4f5e66" stroke-width="0.9"/>
<text x="513.3" y="394" font-size="10.8" fill="#2e3b45" stroke="#2e3b45" stroke-width="0.42" textLength="46.1" lengthAdjust="spacingAndGlyphs">Kids pool</text>
<circle cx="659.2" cy="347.8" r="1.9" fill="#111"/>
<polyline points="521.1,416.9 616.4,416.9 687.8,346" fill="none" stroke="#4f5e66" stroke-width="0.9"/>
<text x="521.1" y="412.8" font-size="10.8" fill="#2e3b45" stroke="#2e3b45" stroke-width="0.42" textLength="35.5" lengthAdjust="spacingAndGlyphs">Lounge</text>
<circle cx="687.8" cy="346" r="1.9" fill="#111"/>
<polyline points="533.75,435 631.6,435 706.9,358.3" fill="none" stroke="#4f5e66" stroke-width="0.9"/>
<text x="533.75" y="431" font-size="10.8" fill="#2e3b45" stroke="#2e3b45" stroke-width="0.42" textLength="76" lengthAdjust="spacingAndGlyphs">Swimming pool</text>
<circle cx="706.9" cy="358.3" r="1.9" fill="#111"/>
<polyline points="585.5,470.5 652,470.5 725.1,396.3" fill="none" stroke="#4f5e66" stroke-width="0.9"/>
<text x="585.5" y="466.6" font-size="10.8" fill="#2e3b45" stroke="#2e3b45" stroke-width="0.42" textLength="55.9" lengthAdjust="spacingAndGlyphs">Club house</text>
<circle cx="725.1" cy="396.3" r="1.9" fill="#111"/>
<line x1="436.7" y1="49" x2="428.8" y2="24.1" stroke="#16263a" stroke-width="1.1"/>
<polygon points="426.5,17 433.6,24.7 428.6,23.6 425.2,27.4" fill="#16263a"/>
<line x1="487.5" y1="46" x2="481.4" y2="19.8" stroke="#16263a" stroke-width="1.1"/>
<polygon points="479.7,12.5 486.1,20.8 481.3,19.2 477.6,22.8" fill="#16263a"/>
<line x1="340.3" y1="541" x2="317.4" y2="555.3" stroke="#16263a" stroke-width="1.1"/>
<polygon points="311,559.3 316.7,550.5 316.9,555.6 321.4,558.0" fill="#16263a"/>
<line x1="895" y1="539.6" x2="918.8" y2="552.9" stroke="#16263a" stroke-width="1.1"/>
<polygon points="925.4,556.5 915.0,555.7 919.4,553.1 919.2,548.0" fill="#16263a"/>
<text x="0" y="0" font-size="13" font-weight="bold" fill="#16263a" textLength="38.5" lengthAdjust="spacingAndGlyphs" transform="translate(434.3,55.8) rotate(69.3)">Beach</text>
<text x="0" y="0" font-size="13" font-weight="bold" fill="#16263a" textLength="84" lengthAdjust="spacingAndGlyphs" transform="translate(485,52) rotate(71.5)">Pegeia center</text>
<text x="0" y="0" font-size="13" font-weight="bold" fill="#16263a" textLength="40" lengthAdjust="spacingAndGlyphs" transform="translate(344.3,540.2) rotate(-29.5)">Beach</text>
<text x="0" y="0" font-size="13" font-weight="bold" fill="#16263a" textLength="43.5" lengthAdjust="spacingAndGlyphs" transform="translate(850.9,518.8) rotate(31)">Paphos</text>
<text x="41.2" y="63.6" font-size="25.5" fill="#14263a" stroke="#14263a" stroke-width="0.85" textLength="175.5" lengthAdjust="spacingAndGlyphs">MASTER PLAN</text>
<text x="41" y="228.7" font-size="13.4" fill="#27343e" stroke="#27343e" stroke-width="0.35" textLength="108.8" lengthAdjust="spacingAndGlyphs">40m Riverlike pool</text>
<rect x="41" y="242.8" width="256.5" height="2" fill="#1c2a35"/>
<text x="41" y="276.8" font-size="13.4" fill="#27343e" stroke="#27343e" stroke-width="0.35" textLength="89.7" lengthAdjust="spacingAndGlyphs">11 private pools</text>
<rect x="41" y="290.9" width="256.5" height="2" fill="#1c2a35"/>
<text x="41" y="324.8" font-size="13.4" fill="#27343e" stroke="#27343e" stroke-width="0.35" textLength="246" lengthAdjust="spacingAndGlyphs">Club house with BBQ area, sport activities</text>
<rect x="41" y="338.9" width="256.5" height="2" fill="#1c2a35"/>
<text x="41" y="372.9" font-size="13.4" fill="#27343e" stroke="#27343e" stroke-width="0.35" textLength="179.7" lengthAdjust="spacingAndGlyphs">Kids pool with playground area</text>
<rect x="41" y="387.1" width="256.5" height="2" fill="#1c2a35"/>
<text x="41" y="421.0" font-size="13.4" fill="#27343e" stroke="#27343e" stroke-width="0.35" textLength="146.3" lengthAdjust="spacingAndGlyphs">3 min to Coral Bay Beach</text>
<rect x="41" y="435.1" width="256.5" height="2" fill="#1c2a35"/>
<text x="41" y="469.1" font-size="13.4" fill="#27343e" stroke="#27343e" stroke-width="0.35" textLength="131.3" lengthAdjust="spacingAndGlyphs">Gated area 24/7 CCTV</text>
<rect x="41" y="483.2" width="256.5" height="2" fill="#1c2a35"/>
<text x="41" y="517.2" font-size="13.4" fill="#27343e" stroke="#27343e" stroke-width="0.35" textLength="119.4" lengthAdjust="spacingAndGlyphs">Lifts in master-villas</text>
<rect x="41" y="531.4" width="256.5" height="2" fill="#1c2a35"/>
</svg>
</body></html>
